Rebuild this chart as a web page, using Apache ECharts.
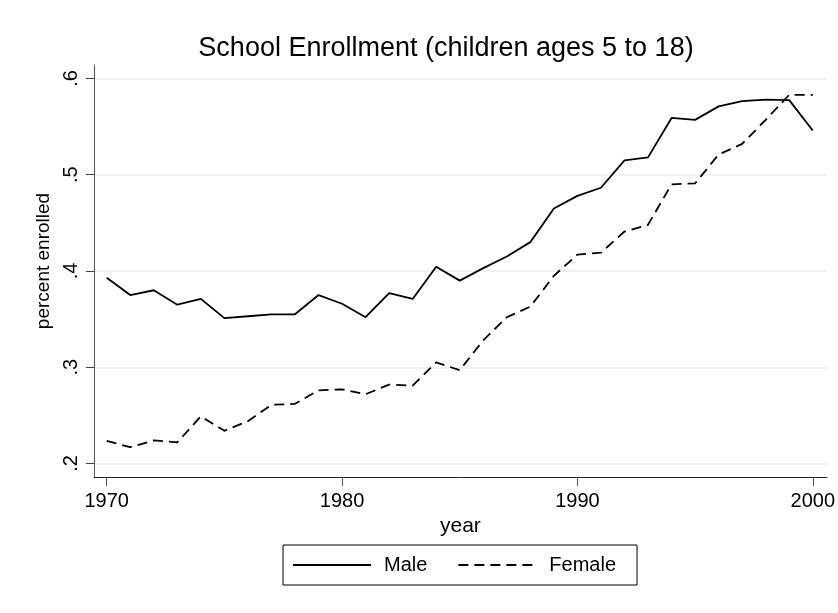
<!DOCTYPE html>
<html>
<head>
<meta charset="utf-8">
<script src="https://cdn.jsdelivr.net/npm/echarts@6/dist/echarts.min.js"></script>
<style>html,body{margin:0;padding:0;background:#fff}#c{width:838px;height:613px}</style>
</head>
<body>
<div id="c"></div>
<script>
const years = [1970,1971,1972,1973,1974,1975,1976,1977,1978,1979,1980,1981,1982,1983,1984,1985,1986,1987,1988,1989,1990,1991,1992,1993,1994,1995,1996,1997,1998,1999,2000];
const male = [0.393,0.375,0.380,0.365,0.371,0.351,0.353,0.355,0.355,0.375,0.366,0.352,0.377,0.371,0.4045,0.390,0.403,0.415,0.430,0.465,0.478,0.4865,0.515,0.518,0.559,0.557,0.571,0.5765,0.578,0.5775,0.546];
const female = [0.2235,0.217,0.224,0.222,0.249,0.234,0.244,0.261,0.262,0.276,0.277,0.272,0.282,0.281,0.305,0.297,0.328,0.352,0.363,0.395,0.417,0.419,0.441,0.448,0.490,0.491,0.521,0.532,0.557,0.583,0.583];
const xTicks = [1970,1980,1990,2000];
const yTicks = [0.2,0.3,0.4,0.5,0.6];

const font = 'Liberation Sans, Arial, sans-serif';
const chart = echarts.init(document.getElementById('c'), null, {renderer:'canvas'});
chart.setOption({
  backgroundColor:'#fff',
  animation:false,
  title:{
    text:'School Enrollment (children ages 5 to 18)',
    left:441, top:30, textAlign:'center',
    textStyle:{fontFamily:font,fontSize:27,fontWeight:'normal',color:'#000'}
  },
  grid:{left:94,right:11,top:65,bottom:136,containLabel:false},
  legend:{
    left:283, top:545,
    data:['Male','Female'],
    borderColor:'#000', borderWidth:1, borderRadius:0,
    padding:[10,21,10,9],
    itemWidth:78, itemHeight:14, itemGap:30,
    itemStyle:{color:'rgba(0,0,0,0)',borderWidth:0,opacity:0},
    textStyle:{fontFamily:font,fontSize:20,color:'#000',padding:[0,0,0,8]}
  },
  xAxis:{
    type:'value', min:1969.46, max:2000.6,
    name:'year', nameLocation:'middle', nameGap:35,
    nameTextStyle:{fontFamily:font,fontSize:21,color:'#000'},
    axisLine:{show:true,onZero:false,lineStyle:{color:'#222',width:1}},
    axisTick:{show:true,length:9,customValues:xTicks,lineStyle:{color:'#555'}},
    axisLabel:{customValues:xTicks,margin:14,fontFamily:font,fontSize:20,color:'#000',formatter:v=>String(v)},
    splitLine:{show:false}
  },
  yAxis:{
    type:'value', min:0.186, max:0.614,
    name:'percent enrolled', nameLocation:'middle', nameGap:38,
    nameTextStyle:{fontFamily:font,fontSize:19,color:'#000',padding:[0,0,0,20]},
    axisLine:{show:true,onZero:false,lineStyle:{color:'#555',width:1}},
    axisTick:{show:true,length:8,customValues:yTicks,lineStyle:{color:'#444'}},
    axisLabel:{customValues:yTicks,rotate:90,margin:13,fontFamily:font,fontSize:20,color:'#000',
      formatter:v=>String(Math.round(v*10)/10).replace(/^0/,'')},
    splitLine:{show:true,lineStyle:{color:'#e8eff3',width:1.5}}
  },
  series:[
    {name:'Male',type:'line',data:years.map((y,i)=>[y,male[i]]),showSymbol:false,symbol:'none',
     lineStyle:{color:'#000',width:1.8,type:'solid'},itemStyle:{color:'#000'}},
    {name:'Female',type:'line',data:years.map((y,i)=>[y,female[i]]),showSymbol:false,symbol:'none',
     lineStyle:{color:'#000',width:1.8,type:[10,6]},itemStyle:{color:'#000'}}
  ]
});
</script>
</body>
</html>
